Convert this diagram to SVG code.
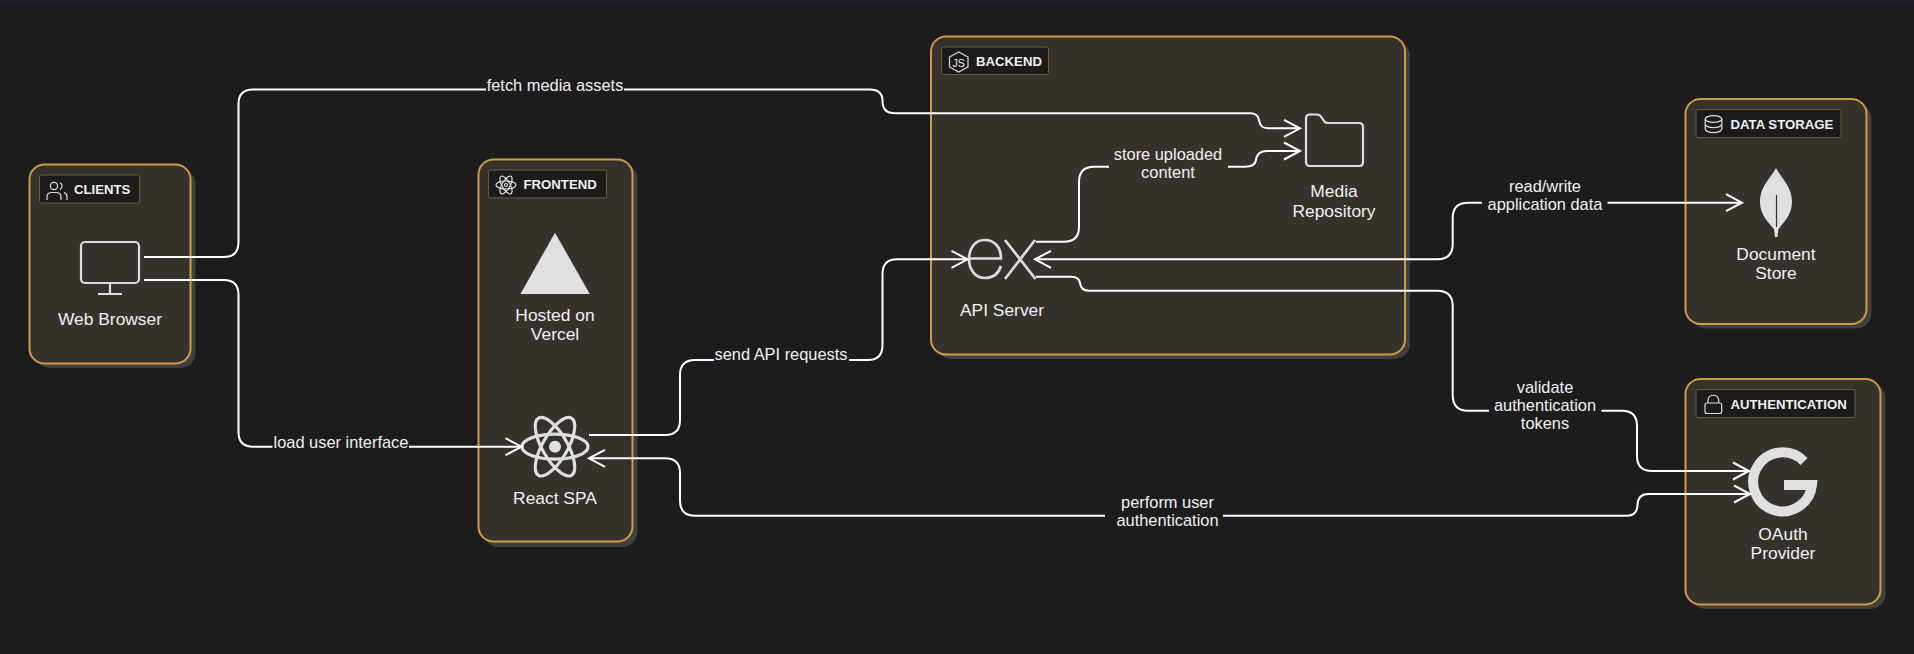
<svg xmlns="http://www.w3.org/2000/svg" width="1914" height="654" viewBox="0 0 1914 654">
<style>
text{font-family:"Liberation Sans",Arial,sans-serif;fill:#f1f1f1}
.nl{font-size:17.4px;text-anchor:middle}
.el{font-size:16.4px;text-anchor:middle}
.cl{font-size:13.2px;font-weight:700}
.shadow{fill:#3f3f3f}
.box{fill:#35322b;stroke:#d09a48;stroke-width:2}
.chip{fill:#1b1b1b;stroke:#6f5a36;stroke-width:1}
.ic{fill:none;stroke:#dedede;stroke-width:1.200}
.big{fill:none;stroke:#dedede;stroke-width:2.200}
.solid{fill:#e0e0e0;stroke:none}
.edge{fill:none;stroke:#fff;stroke-width:2;marker-end:url(#a)}
.line{fill:none;stroke:#fff;stroke-width:2}
</style>
<defs>
<marker id="a" markerUnits="userSpaceOnUse" markerWidth="22" markerHeight="22" refX="17" refY="10" orient="auto" overflow="visible">
<path d="M1,1.500 L17,10 L1,18.500" fill="none" stroke="#fff" stroke-width="2"/>
</marker>
</defs>
<rect width="1914" height="654" fill="#1c1c1c"/>
<rect width="1914" height="3" fill="#1e1e27"/>

<g id="clients">
<rect class="shadow" x="34.500" y="169" width="161" height="199" rx="15"/>
<rect class="box" x="29.500" y="164.500" width="161" height="199" rx="15"/>
<rect class="chip" x="39.500" y="175" width="100" height="28" rx="2"/>
<g class="ic"><circle cx="54" cy="186" r="3.600"/><path d="M47,200 V197 Q47,192.500 52,192.500 H56 Q61,192.500 61,197 V200"/><path d="M60,182.500 A4,4 0 0 1 60,189.500 M64,192.500 Q67,193.500 67,197 V200"/></g>
<text class="cl" x="74" y="194">CLIENTS</text>
</g>
<g id="web-browser">
<rect class="big" x="81" y="242" width="58" height="41" rx="4"/>
<path class="big" d="M110,283 V294 M98,294 H122"/>
<text class="nl" x="110" y="325">Web Browser</text>
</g>

<g id="frontend">
<rect class="shadow" x="483.500" y="164" width="154" height="383" rx="15"/>
<rect class="box" x="478.500" y="159.500" width="154" height="382" rx="15"/>
<rect class="chip" x="488.500" y="170" width="118" height="28" rx="2"/>
<g class="ic"><ellipse cx="506" cy="185" rx="10" ry="4"/><ellipse cx="506" cy="185" rx="10" ry="4" transform="rotate(60 506 185)"/><ellipse cx="506" cy="185" rx="10" ry="4" transform="rotate(120 506 185)"/><circle cx="506" cy="185" r="1.500"/></g>
<text class="cl" x="523.500" y="189">FRONTEND</text>
</g>
<g id="vercel">
<polygon class="solid" points="555,232.700 589.800,294 520.400,294"/>
<text class="nl"><tspan x="555" y="320.500">Hosted on</tspan><tspan x="555" y="339.500">Vercel</tspan></text>
</g>
<g id="react-spa">
<g fill="none" stroke="#dedede" stroke-width="3.200"><ellipse cx="555" cy="446.700" rx="33" ry="12.500"/><ellipse cx="555" cy="446.700" rx="33" ry="12.500" transform="rotate(60 555 446.700)"/><ellipse cx="555" cy="446.700" rx="33" ry="12.500" transform="rotate(120 555 446.700)"/></g>
<circle class="solid" cx="555" cy="446.700" r="6"/>
<text class="nl" x="555" y="504">React SPA</text>
</g>

<g id="backend">
<rect class="shadow" x="936" y="41" width="474" height="318" rx="15"/>
<rect class="box" x="931" y="36.500" width="474" height="318" rx="15"/>
<rect class="chip" x="941.500" y="47" width="107" height="27.500" rx="2"/>
<polygon class="ic" points="958.700,52 968,57 968,67 958.700,72 949.500,67 949.500,57"/>
<text x="958.700" y="66.500" text-anchor="middle" font-size="10.500">JS</text>
<text class="cl" x="976" y="65.500">BACKEND</text>
</g>
<g id="api-server">
<path d="M969,258.500 H1001 C1001,246.500 994,240 984.500,240 C974.500,240 969,249 969,259 C969,270 975.500,278 985,278 C993,278 998.500,273.500 1001,266 M1005,240 L1035.500,279 M1035,240 L1005,279" fill="none" stroke="#dcdcdc" stroke-width="2.700"/>
<text class="nl" x="1002" y="316">API Server</text>
</g>
<g id="media-repository">
<path class="big" d="M1310,114.500 H1317 Q1320,114.500 1322,118 L1324,121 Q1325,123 1328,123 H1359 Q1363,123 1363,127 V162 Q1363,166 1359,166 H1310 Q1306,166 1306,162 V118.500 Q1306,114.500 1310,114.500 Z"/>
<text class="nl"><tspan x="1334" y="197">Media</tspan><tspan x="1334" y="216.500">Repository</tspan></text>
</g>

<g id="data-storage">
<rect class="shadow" x="1690.500" y="103.500" width="181" height="225" rx="15"/>
<rect class="box" x="1685.500" y="99" width="181" height="225" rx="15"/>
<rect class="chip" x="1696" y="109.500" width="145" height="28" rx="2"/>
<g class="ic"><ellipse cx="1713.500" cy="119" rx="8.300" ry="3.400"/><path d="M1705.200,119 V129 C1705.200,131 1709,132.700 1713.500,132.700 C1718,132.700 1721.800,131 1721.800,129 V119 M1705.200,124 C1705.200,126 1709,127.700 1713.500,127.700 C1718,127.700 1721.800,126 1721.800,124"/></g>
<text class="cl" x="1730.500" y="128.500">DATA STORAGE</text>
</g>
<g id="document-store">
<path class="solid" d="M1776,168 C1781,178 1792,186 1792,202 C1792,215 1783,223 1778.500,229 L1777.500,237 H1775 L1774,229 C1769,223 1760,215 1760,202 C1760,186 1771,178 1776,168 Z"/>
<path d="M1776.500,195 V227" stroke="#35322b" stroke-width="1.200" fill="none"/>
<text class="nl"><tspan x="1776" y="260">Document</tspan><tspan x="1776" y="279">Store</tspan></text>
</g>

<g id="authentication">
<rect class="shadow" x="1690.500" y="383" width="195" height="226" rx="15"/>
<rect class="box" x="1685.500" y="379" width="195" height="225.500" rx="15"/>
<rect class="chip" x="1696" y="389.500" width="159" height="28" rx="2"/>
<g class="ic"><rect x="1705" y="403" width="16.700" height="10.500" rx="2"/><path d="M1708,403 V400.500 C1708,393.500 1718.700,393.500 1718.700,400.500 V403"/></g>
<text class="cl" x="1730.500" y="408.500">AUTHENTICATION</text>
</g>
<g id="oauth-provider">
<path d="M1804,461.500 A29.500,29.500 0 1 0 1812,485 H1784" fill="none" stroke="#e0e0e0" stroke-width="10"/>
<text class="nl"><tspan x="1783" y="540">OAuth</tspan><tspan x="1783" y="559">Provider</tspan></text>
</g>

<g id="connectors">
<path class="edge" d="M144,257 H224 Q238.500,257 238.500,242 V104 Q238.500,89.500 253,89.500 H486 M624,89.500 H870 Q882.500,89.500 882.500,101 Q882.500,113.300 895,113.300 H1250 Q1258,113.300 1259,120 Q1260,128.300 1268,128.300 H1300"/>
<path class="edge" d="M144,280 H224 Q238.500,280 238.500,295 V432 Q238.500,446.700 253,446.700 H272.500 M409,446.700 H521.500"/>
<path class="edge" d="M589,435 H665 Q680,435 680,420 V375 Q680,360 695,360 H714 M849,360 H868 Q882.500,360 882.500,345 V274 Q882.500,259.300 897,259.300 H967.500"/>
<path class="edge" d="M1036,241.700 H1064 Q1079,241.700 1079,227 V182 Q1079,166.700 1094,166.700 H1109 M1228,166.700 H1245 Q1255,166.700 1256,160 Q1257,151 1267,151 H1300"/>
<path class="edge" d="M1482,202.700 H1468 Q1452.700,202.700 1452.700,218 V244 Q1452.700,259.300 1437,259.300 H1035"/>
<path class="edge" d="M1607.500,202.700 H1742"/>
<path class="edge" d="M1036,276.700 H1071 Q1079,276.700 1080,283 Q1081,290.700 1089,290.700 H1437 Q1452.700,290.700 1452.700,306 V395 Q1452.700,410.700 1468,410.700 H1489 M1601.500,410.700 H1622 Q1637,410.700 1637,426 V456 Q1637,471 1652,471 H1749"/>
<path class="edge" d="M1223,515.700 H1627 Q1637,515.700 1637.500,505 Q1638,494 1648,494 H1750"/>
<path class="edge" d="M1105,515.700 H695 Q680,515.700 680,501 V473 Q680,458.300 665,458.300 H589"/>
</g>
<g id="edge-labels">
<text class="el" x="555" y="90.500">fetch media assets</text>
<text class="el" x="341" y="447.500">load user interface</text>
<text class="el" x="781" y="359.500">send API requests</text>
<text class="el"><tspan x="1168" y="160">store uploaded</tspan><tspan x="1168" y="177.500">content</tspan></text>
<text class="el"><tspan x="1545" y="192">read/write</tspan><tspan x="1545" y="210">application data</tspan></text>
<text class="el"><tspan x="1545" y="393">validate</tspan><tspan x="1545" y="411">authentication</tspan><tspan x="1545" y="429">tokens</tspan></text>
<text class="el"><tspan x="1167.500" y="507.500">perform user</tspan><tspan x="1167.500" y="525.500">authentication</tspan></text>
</g>
</svg>
